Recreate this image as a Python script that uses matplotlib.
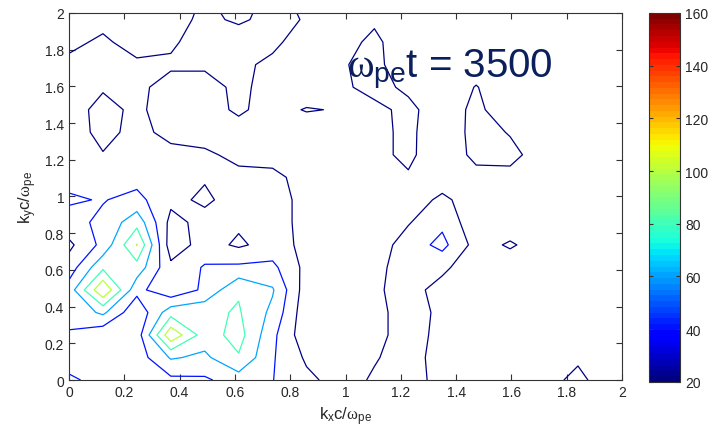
import matplotlib
matplotlib.use('Agg')
import matplotlib.pyplot as plt
import numpy as np
from matplotlib import colors, cm

plt.rcParams['font.family'] = ['Liberation Sans', 'DejaVu Sans']
plt.rcParams['mathtext.fontset'] = 'custom'
plt.rcParams['mathtext.rm'] = 'Liberation Sans'
plt.rcParams['mathtext.it'] = 'Liberation Serif'

# grid of wavenumbers (k c / w_pe)
kx = [0.0, 0.1227, 0.2454, 0.3681, 0.4909, 0.6136, 0.7363, 0.8590, 0.9817,
      1.1045, 1.2272, 1.3499, 1.4726, 1.5953, 1.7181, 1.8408, 1.9635, 2.0862]
ky = list(kx)

# spectrum values, one row per ky (bottom to top)
spec = [
    [44, 32.3, 30.8, 35.4, 36.9, 50, 40.5, 24.6, 12.3, 22.3, 27.7, 13.8, 9.2, 6.2, 9.2, 27.7, 1.5, 6.2],
    [29.2, 29.2, 29.2, 62, 56, 78, 42, 16.9, 9.2, 18.5, 27.7, 12.3, 7.7, 9.2, 6.2, 15.4, 9.2, 4.6],
    [38.5, 24.6, 29.2, 115, 70, 88, 45, 6.2, 9.2, 13.8, 29.2, 13.8, 9.2, 12.3, 7.7, 4.6, 9.2, 12.3],
    [45, 64, 24.6, 72, 75, 82, 55, 6.2, 10.8, 13.8, 29.2, 15.4, 10.8, 6.2, 9.2, 12.3, 7.7, 9.2],
    [49, 118, 46, 24.6, 44, 78, 62, 9.2, 7.7, 16.9, 27.7, 12.3, 9.2, 10.8, 6.2, 9.2, 12.3, 7.7],
    [29.2, 76, 72, 24.6, 42, 44, 45, 13.8, 9.2, 15.4, 27.7, 24.6, 6.2, 9.2, 12.3, 7.7, 6.2, 9.2],
    [15.4, 46, 101, 9.2, 27.7, 16.9, 27.7, 15.4, 10.8, 9.2, 29.2, 46, 12.3, 22.3, 10.8, 9.2, 7.7, 10.8],
    [33.8, 44, 73, 13.8, 26.2, 23.1, 26.2, 15.4, 9.2, 7.7, 18.5, 35.4, 6.2, 9.2, 10.8, 7.7, 9.2, 6.2],
    [42, 39, 46, 24.6, 16.9, 27.7, 26.2, 15.4, 12.3, 9.2, 12.3, 23.1, 12.3, 7.7, 9.2, 12.3, 9.2, 7.7],
    [35.4, 29.2, 33, 24.6, 21.5, 24.6, 23.1, 15.4, 10.8, 9.2, 16.9, 12.3, 10.8, 13.8, 9.2, 6.2, 9.2, 10.8],
    [29.2, 20.8, 26.2, 24.6, 23.1, 15.4, 15.4, 12.3, 9.2, 12.3, 26.2, 0, 27.7, 26.2, 9.2, 10.8, 7.7, 9.2],
    [27.7, 15.4, 24.6, 15.4, 12.3, 12.3, 9.2, 6.2, 9.2, 12.3, 26.2, 1.5, 29.2, 18.5, 10.8, 7.7, 9.2, 6.2],
    [26.2, 15.4, 23.1, 12.3, 12.3, 23.1, 12.3, 21.5, 18.5, 13.8, 26.2, 6.2, 26.2, 3.1, 9.2, 10.8, 7.7, 9.2],
    [27.7, 21.5, 24.6, 12.3, 12.3, 24.6, 12.3, 6.2, 15.4, 27.7, 15.4, 9.2, 20.8, 9.2, 7.7, 9.2, 10.8, 7.7],
    [26.2, 29.2, 24.6, 23.1, 23.1, 24.6, 15.4, 9.2, 18.5, 24.6, 9.2, 7.7, 12.3, 9.2, 10.8, 7.7, 9.2, 10.8],
    [13.8, 24.6, 9.2, 16.9, 29.2, 30.8, 24.6, 9.2, 12.3, 24.6, 6.2, 9.2, 7.7, 10.8, 9.2, 7.7, 6.2, 9.2],
    [9.2, 12.3, 9.2, 12.3, 24.6, 16.9, 26.2, 18.5, 9.2, 16.9, 7.7, 9.2, 10.8, 7.7, 9.2, 10.8, 7.7, 9.2],
    [9.2, 7.7, 10.8, 9.2, 21.5, 12.3, 24.6, 15.4, 10.8, 9.2, 7.7, 10.8, 9.2, 7.7, 10.8, 9.2, 9.2, 7.7],
]

levels = [20, 40, 60, 80, 100]
cbar_ticks = [20, 40, 60, 80, 100, 120, 140, 160]
ticks = [0, 0.2, 0.4, 0.6, 0.8, 1, 1.2, 1.4, 1.6, 1.8, 2]
tick_labels = ['0', '0.2', '0.4', '0.6', '0.8', '1', '1.2', '1.4', '1.6', '1.8', '2']

jet = plt.get_cmap('jet', 64)
norm = colors.Normalize(vmin=20, vmax=160)

fig = plt.figure(figsize=(7.08, 4.35), dpi=100)
ax = fig.add_axes([0.0975, 0.124, 0.781, 0.844])

Z = np.array(spec)
ax.contour(kx, ky, Z, levels=levels, cmap=plt.get_cmap('jet'), norm=norm, linewidths=0.9)

ax.set_xlim(0, 2)
ax.set_ylim(0, 2)
ax.set_xticks(ticks)
ax.set_xticklabels(tick_labels)
ax.set_yticks(ticks)
ax.set_yticklabels(tick_labels)
ax.tick_params(direction='in', top=True, right=True, length=4, width=0.8,
               labelsize=10, labelcolor='#262626', color='#333333')
for sp in ax.spines.values():
    sp.set_color('#333333')
    sp.set_linewidth(0.8)

ax.set_xlabel(r'k$_{\mathrm{x}}$c/$\omega_{\mathrm{pe}}$', fontsize=12, color='#262626', labelpad=4)
ax.set_ylabel(r'k$_{\mathrm{y}}$c/$\omega_{\mathrm{pe}}$', fontsize=12, color='#262626', labelpad=4)

ax.text(1.005, 1.65, r'$\omega_{\mathrm{pe}}$t = 3500', fontsize=29, color='#0b1f5c',
        va='baseline', ha='left')

# colorbar
cax = fig.add_axes([0.917, 0.12, 0.044, 0.848])
cb = fig.colorbar(cm.ScalarMappable(norm=norm, cmap=jet), cax=cax, ticks=cbar_ticks)
cb.outline.set_linewidth(0.8)
cb.outline.set_edgecolor('#333333')
cax.tick_params(direction='in', length=3, width=0.8, labelsize=10,
                labelcolor='#262626', color='#333333', left=True, right=True)

fig.savefig('out.png', dpi=100)
